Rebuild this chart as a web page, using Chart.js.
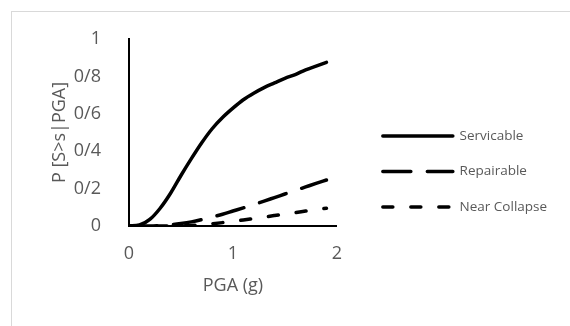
<!DOCTYPE html>
<html>
<head>
<meta charset="utf-8">
<script src="https://cdn.jsdelivr.net/npm/chart.js@4/dist/chart.umd.min.js"></script>
<style>
  html, body { margin: 0; padding: 0; background: #fff; }
  #wrap { position: relative; width: 570px; height: 326px; overflow: hidden; }
  #frame { position: absolute; left: 11px; top: 11px; width: 620px; height: 400px; border: 1px solid #d9d9d9; }
  #chart { position: absolute; left: 0; top: 0; }
</style>
</head>
<body>
<div id="wrap">
  <div id="frame"></div>
  <canvas id="chart" width="570" height="326"></canvas>
</div>
<script>
// PGA (g) sample points
const pga = [0, 0.1, 0.2, 0.3, 0.4, 0.5, 0.6, 0.7, 0.8, 0.9, 1.0, 1.1, 1.2, 1.3, 1.4, 1.5, 1.6, 1.7, 1.8, 1.9];
// fragility curves
const servicable = [0, 0.005, 0.035, 0.095, 0.175, 0.27, 0.36, 0.445, 0.52, 0.58, 0.63, 0.675, 0.71, 0.74, 0.765, 0.79, 0.81, 0.835, 0.855, 0.875];
const repairable = [0, 0, 0, 0.002, 0.006, 0.013, 0.022, 0.034, 0.048, 0.063, 0.08, 0.097, 0.115, 0.133, 0.152, 0.171, 0.19, 0.209, 0.228, 0.246];
const nearCollapse = [0, 0, 0, 0, 0, 0.001, 0.003, 0.007, 0.012, 0.018, 0.025, 0.032, 0.04, 0.048, 0.056, 0.064, 0.072, 0.08, 0.088, 0.095];
const seriesNames = ['Servicable', 'Repairable', 'Near Collapse'];
const xTicks = [0, 1, 2];
const yTicks = [0, 0.2, 0.4, 0.6, 0.8, 1];
const yTickLabels = ['0', '0/2', '0/4', '0/6', '0/8', '1'];

const grey = '#595959';
const axisFont = { family: 'Open Sans', size: 18 };
const toPoints = ys => pga.map((x, i) => ({ x: x, y: ys[i] }));

const lineStyle = (label, ys, dash) => ({
  label: label,
  data: toPoints(ys),
  borderColor: '#000',
  backgroundColor: '#000',
  borderWidth: 3.5,
  borderDash: dash,
  borderCapStyle: 'round',
  pointRadius: 0,
  cubicInterpolationMode: 'monotone',
  fill: false
});

// invisible axes used only as spacers around the plot
const spacer = (pos, size) => ({
  type: 'linear',
  position: pos,
  display: true,
  grid: { display: false },
  border: { display: false },
  ticks: { display: false },
  afterFit: s => { if (pos === 'top') s.height = size; else s.width = size; }
});

// the layout caps the right legend's width and 4.5 clips to it, so let it run to the edge
const widenLegend = {
  id: 'widenLegend',
  afterLayout(chart) {
    const lg = chart.legend;
    lg.right = chart.width;
    lg.width = lg.right - lg.left;
  }
};

new Chart(document.getElementById('chart'), {
  type: 'line',
  data: {
    datasets: [
      lineStyle(seriesNames[0], servicable, []),
      lineStyle(seriesNames[1], repairable, [28, 16.5]),
      lineStyle(seriesNames[2], nearCollapse, [10, 18])
    ]
  },
  plugins: [widenLegend],
  options: {
    responsive: false,
    animation: false,
    // the right legend is capped at (width - padding) / 6, so this padding puts it at x = 361
    layout: { padding: { left: 0, top: 17, right: 137, bottom: 0 } },
    plugins: {
      tooltip: { enabled: false },
      legend: {
        position: 'right',
        align: 'center',
        labels: {
          usePointStyle: true,
          pointStyle: 'line',
          pointStyleWidth: 70,
          padding: 22,
          color: grey,
          font: { family: 'Open Sans', size: 13.5 },
          generateLabels: chart => {
            const items = Chart.defaults.plugins.legend.labels.generateLabels(chart);
            items.forEach((item, i) => {
              const ds = chart.data.datasets[i];
              item.lineWidth = ds.borderWidth;
              item.lineDash = ds.borderDash;
              item.lineCap = ds.borderCapStyle;
              item.strokeStyle = ds.borderColor;
            });
            return items;
          }
        }
      }
    },
    scales: {
      x: {
        type: 'linear',
        position: 'bottom',
        min: 0,
        max: 2,
        afterBuildTicks: s => { s.ticks = xTicks.map(v => ({ value: v })); },
        grid: { display: false },
        border: { display: true, color: '#000', width: 2 },
        ticks: { color: grey, font: axisFont, padding: 9 },
        title: { display: true, text: 'PGA (g)', color: grey, font: axisFont, padding: { top: 0, bottom: 29 } },
        afterFit: s => { s.height = 100; }
      },
      y: {
        type: 'linear',
        position: 'left',
        min: 0,
        max: 1,
        afterBuildTicks: s => { s.ticks = yTicks.map(v => ({ value: v })); },
        grid: { display: false },
        border: { display: true, color: '#000', width: 2 },
        ticks: {
          color: grey,
          font: axisFont,
          padding: 20,
          callback: v => yTickLabels[yTicks.indexOf(Math.round(v * 10) / 10)]
        },
        title: { display: true, text: 'P [S>s|PGA]', color: grey, font: axisFont, padding: { top: 49, bottom: 0 } },
        afterFit: s => { s.width = 129; }
      },
      xTop: spacer('top', 22),
      yRight: spacer('right', 24)
    }
  }
});
</script>
</body>
</html>
